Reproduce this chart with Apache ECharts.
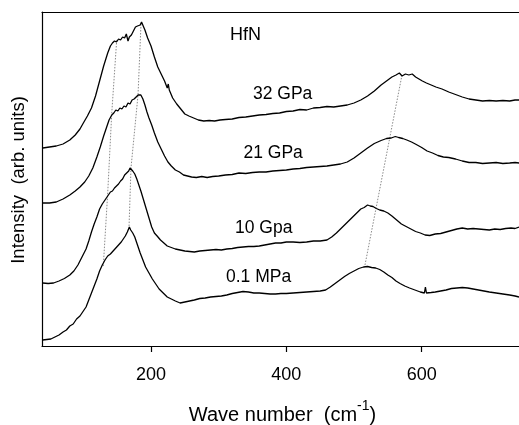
<!DOCTYPE html>
<html><head><meta charset="utf-8">
<script src="https://cdn.jsdelivr.net/npm/echarts@6/dist/echarts.min.js"></script>
<style>html,body{margin:0;padding:0;background:#fff}#c{width:519px;height:425px}</style>
</head><body><div id="c"></div>
<script>
// Spectra: [wave number (cm-1), intensity (arb. units, offset-stacked)]
const spec32GPa = [[40,198],[50,199],[60,200],[70,202],[80,206],[88,211],[95,217],[100,223],[106,230],[112,238],[118,250],[124,265],[130,280],[136,293],[140,300],[143,303],[146,305],[149,304],[152,307],[155,306],[158,309],[161,308],[163.5,312],[166,305],[168,309],[171,311],[174,315],[177,319],[180,320],[182,322],[184,321],[186,324],[188,322],[191,316],[195,308],[200,300],[205,289],[210,279],[215,272],[220,265],[224,258],[225.5,262],[227,256],[232,248],[238,242],[244,237],[250,232],[256,230],[263,228],[270,226],[278,225],[286,225.5],[294,225],[302,226],[310,226.5],[320,227],[330,228.5],[340,229],[350,230],[360,231],[370,231.5],[380,232.5],[390,233],[400,234.5],[410,235],[420,236.5],[430,236],[440,238],[450,238.5],[460,239.5],[470,239],[480,240],[490,241],[500,243],[510,246],[520,250],[530,255],[540,261],[550,266],[556,269],[562,271],[567,273],[571,270],[576,272],[581,271],[586,272],[591,269],[596,267],[601,265],[607,263],[614,261],[621,259],[630,257],[640,254],[650,251.5],[660,249],[670,247],[680,246],[690,245],[700,245.5],[710,245],[720,245.5],[730,245],[738,246],[743.8,246]];

const spec21GPa = [[40,143],[50,143],[60,144],[70,147],[80,151],[88,155],[95,159],[102,164],[108,170],[114,178],[120,189],[125,199],[130,210],[134,218],[138,226],[142,231],[145,233],[148,236],[151,235],[154,238],[157,237],[160,240],[163,239],[166,243],[169,242],[172,246],[175,247],[178,249],[181,251],[183,250],[185,251],[188,247],[191,241],[194,234],[197,228],[201,221],[205,213],[210,204],[215,197],[220,190],[225,184],[230,180],[236,176],[242,174],[248,171],[254,170],[260,169],[267,168.5],[275,169.5],[283,168.5],[291,169.5],[300,170],[310,171],[320,171.5],[330,173],[340,172.5],[350,173.5],[360,174],[370,174],[380,175],[390,175.5],[400,176],[410,177],[420,177.5],[430,178.5],[440,179],[450,179.5],[460,180],[470,181],[480,182],[490,184],[500,188],[510,193],[520,198],[530,202.5],[540,205.5],[548,207.5],[555,208],[561,209.5],[566,208.5],[572,207.5],[578,206],[585,204],[592,201.5],[600,198.5],[608,195],[616,193],[624,190.5],[632,189],[640,188.5],[650,187],[660,185],[670,183.5],[680,183.5],[690,182.5],[700,183],[710,183.5],[720,182.5],[730,183],[738,183.5],[743.8,183]];

const spec10GPa = [[40,63],[48,62.5],[56,63],[64,65],[72,67.5],[80,71],[86,75],[92,81],[98,89],[104,97],[108,105],[112,114],[116,122],[120,129],[124,137],[128,142],[131,145],[134,148],[137,151],[140,154],[143,155],[146,158],[149,160],[152,162],[155,165],[158,167],[161,171],[164,173],[167,175],[169,178],[171,176],[173,175],[176,172],[179,167],[182,161],[185,155],[189,146],[193,137],[197,128],[201,119],[205,113],[209,110],[214,106],[219,103],[224,100],[230,98.5],[236,97],[243,96],[250,95],[257,94.5],[264,94],[272,95],[280,95.5],[288,96],[296,96.5],[304,96],[312,97],[320,97.5],[328,98.5],[336,99],[344,99.5],[352,99.5],[360,100],[368,101],[376,102],[384,103],[392,103],[400,104],[410,104],[420,103.5],[430,104],[440,105],[450,105],[460,106],[467,109],[474,113],[480,117],[486,121],[492,125],[498,129],[504,133],[510,137],[515,138.5],[520,141],[524,140],[528,139.5],[533,137.5],[538,136],[544,135],[550,133],[556,130],[563,126],[570,122],[577,119.5],[584,117],[591,114.5],[598,113],[605,111],[612,110.5],[620,112],[628,112.5],[636,114],[644,115.5],[652,117],[660,118],[668,117],[676,117.5],[684,117],[692,116.5],[700,116],[708,117],[716,116.5],[724,117.5],[732,118],[738,117.5],[743.8,119]];

const spec01MPa = [[40,6],[46,6.5],[52,7],[58,9],[64,11],[70,14],[75,16],[80,20],[85,22],[90,27],[95,30],[100,35],[104,39],[108,46],[112,53],[116,60],[120,67],[124,75],[128,81],[132,86],[136,90],[140,92],[144,95],[148,98],[152,101],[156,104],[159,107],[162,110],[165,114],[168,119],[170,116],[173,113],[176,109],[180,101],[184,93],[188,86],[192,79],[197,73],[202,67],[207,62],[212,57],[218,53],[224,49],[230,47],[236,45],[243,43],[250,44],[257,45],[264,46],[272,47.5],[280,48],[288,49],[296,49.5],[304,50],[312,51],[320,52.5],[328,53.5],[336,54.5],[344,54],[352,53],[360,53],[368,52.5],[376,52],[384,52],[392,52.5],[400,52.5],[410,53],[420,53.5],[430,54],[440,54.5],[450,55],[458,56],[465,59],[472,62.5],[479,66],[486,69.5],[493,72.5],[500,75],[507,77.5],[514,79],[520,79.5],[526,78.5],[532,78],[538,76.5],[544,74],[550,71],[556,68.5],[562,65],[568,62.5],[575,60],[582,58],[590,56],[598,54],[604,53],[605.5,59],[607,53],[614,53.5],[620,54],[628,55],[636,56],[644,57.5],[652,58],[660,58.5],[668,58],[676,57],[684,56],[692,55],[700,54],[710,53],[720,52],[730,51],[738,50],[743.8,49]];

// Dotted guide lines following the peak positions
const guideA = [[149.3,306],[142,233],[136,153],[129.5,80]];
const guideB = [[185.2,322],[180.8,251],[170.4,178],[167.5,119]];
const guideC = [[570.9,271],[516.2,81]];

const xTicks = [200,400,600];
const curveLabels = ['32 GPa','21 GPa','10 Gpa','0.1 MPa'];
const title = 'HfN';

const FONT = '"Liberation Sans", Arial, Helvetica, sans-serif';

const chart = echarts.init(document.getElementById('c'), null, {renderer:'canvas'});
const curve = (d) => ({type:'line', data:d, showSymbol:false, symbol:'none', lineStyle:{color:'#000', width:1.3}, silent:true, z:3});
const guide = (d) => ({type:'line', data:d, showSymbol:false, symbol:'none', lineStyle:{color:'#8a8a8a', width:1, type:[1.5,1.5]}, silent:true, z:2});

chart.setOption({
  animation:false,
  backgroundColor:'#fff',
  grid:{left:42, right:0, top:12, bottom:79},
  xAxis:[{
    type:'value', min:38.9, max:743.8, position:'bottom',
    axisLine:{show:true, lineStyle:{color:'#000', width:1.2}},
    axisTick:{show:true, inside:false, length:6, customValues:xTicks, lineStyle:{color:'#000', width:1.2}},
    axisLabel:{show:true, customValues:xTicks, margin:20, color:'#000', fontSize:18, fontFamily:FONT},
    splitLine:{show:false}
  },{
    type:'value', min:38.9, max:743.8, position:'top',
    axisLine:{show:true, lineStyle:{color:'#000', width:1.2}},
    axisTick:{show:false}, axisLabel:{show:false}, splitLine:{show:false}
  }],
  yAxis:{type:'value', min:0, max:334,
    axisLine:{show:true, lineStyle:{color:'#000', width:1.2}},
    axisTick:{show:false}, axisLabel:{show:false}, splitLine:{show:false}},
  series:[
    guide(guideA), guide(guideB), guide(guideC),
    curve(spec32GPa), curve(spec21GPa), curve(spec10GPa), curve(spec01MPa)
  ],
  graphic:[
    {type:'text', left:230, top:26, style:{text:title, font:'18px '+FONT, fill:'#000'}},
    {type:'text', x:253, y:94, style:{text:curveLabels[0], font:'17.5px '+FONT, fill:'#000', textVerticalAlign:'middle'}},
    {type:'text', x:243.5, y:153, style:{text:curveLabels[1], font:'17.5px '+FONT, fill:'#000', textVerticalAlign:'middle'}},
    {type:'text', x:235, y:228.5, style:{text:curveLabels[2], font:'17.5px '+FONT, fill:'#000', textVerticalAlign:'middle'}},
    {type:'text', x:226, y:277.5, style:{text:curveLabels[3], font:'17.5px '+FONT, fill:'#000', textVerticalAlign:'middle'}},
    {type:'text', x:19, y:180, rotation:Math.PI/2, style:{text:'Intensity  (arb. units)', font:'18.5px '+FONT, fill:'#000', textAlign:'center', textVerticalAlign:'middle'}},
    {type:'text', x:282.5, y:412, style:{text:'{m|Wave number  (cm}{s|-1}{m|)}', textAlign:'center', textVerticalAlign:'middle', fill:'#000',
      rich:{m:{fontSize:20, fontFamily:FONT, lineHeight:26, fill:'#000', verticalAlign:'bottom'}, s:{fontSize:14, fontFamily:FONT, lineHeight:14, fill:'#000', verticalAlign:'top'}}}}
  ]
});
</script></body></html>
